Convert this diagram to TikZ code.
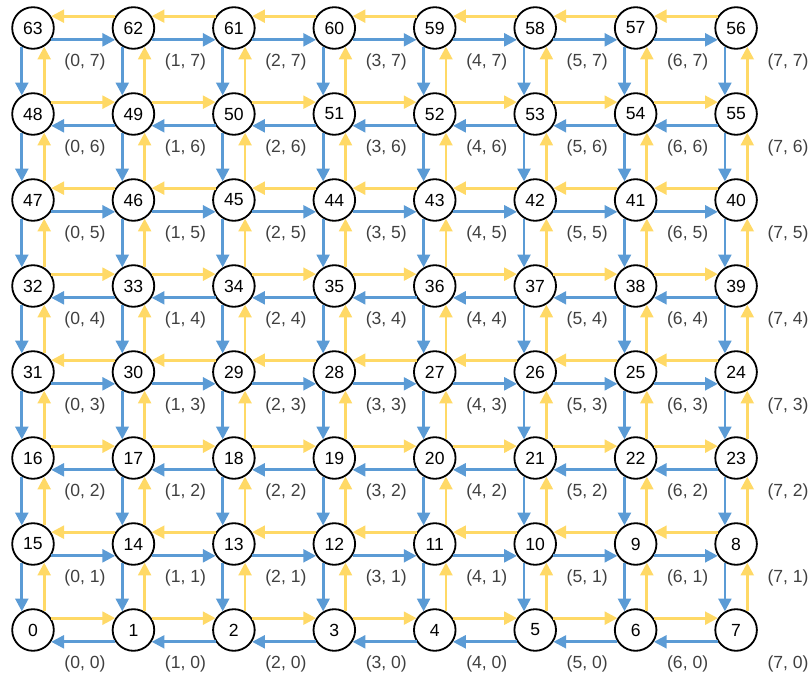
\documentclass[tikz,border=0pt]{standalone}
\usepackage{fontspec}
\setmainfont{Liberation Sans}
\usepackage{tikz}
\usetikzlibrary{arrows.meta,calc}
\definecolor{pathblue}{RGB}{91,155,213}
\definecolor{pathgold}{RGB}{255,217,102}
\definecolor{labelgray}{RGB}{64,64,64}
\tikzset{
  cell/.style={circle,draw=black,line width=1.3pt,minimum size=1.04cm,inner sep=0pt,font=\fontsize{12.5}{15}\selectfont},
  coordlabel/.style={text=labelgray,inner sep=0pt,font=\fontsize{12.5}{15}\selectfont},
  blueedge/.style={-{Triangle[length=3.2mm,width=3.2mm]},line width=2pt,draw=pathblue},
  goldedge/.style={-{Triangle[length=3.2mm,width=3.2mm]},line width=2pt,draw=pathgold}
}

\begin{document}
\begin{tikzpicture}[x=2.511cm,y=2.15cm]
  \useasboundingbox (-0.825cm,-1.25cm) rectangle (19.475cm,15.75cm);
  % grid cells, snake numbering
  \foreach \j in {0,...,7}{
    \foreach \i in {0,...,7}{
      \pgfmathtruncatemacro{\id}{mod(\j,2)==1 ? 8*\j+7-\i : 8*\j+\i}
      \node[cell] (n\i-\j) at (\i,\j) {\id};
      \node[coordlabel] (l\i-\j) at ($(\i,\j)+(1.3cm,-0.85cm)$) {(\i, \j)};
    }
  }
  % horizontal links
  \foreach \j in {0,...,7}{
    \foreach \i in {0,...,6}{
      \pgfmathtruncatemacro{\k}{\i+1}
      \ifodd\j\relax
        \draw[goldedge] (n\k-\j.147) -- (n\i-\j.33);
        \draw[blueedge] (n\i-\j.-33) -- (n\k-\j.-147);
      \else
        \draw[goldedge] (n\i-\j.33) -- (n\k-\j.147);
        \draw[blueedge] (n\k-\j.-147) -- (n\i-\j.-33);
      \fi
    }
  }
  % vertical links
  \foreach \i in {0,...,7}{
    \foreach \j in {0,...,6}{
      \pgfmathtruncatemacro{\k}{\j+1}
      \draw[blueedge] (n\i-\k.239) -- (n\i-\j.121);
      \draw[goldedge] (n\i-\j.59) -- (n\i-\k.301);
    }
  }
\end{tikzpicture}
\end{document}
